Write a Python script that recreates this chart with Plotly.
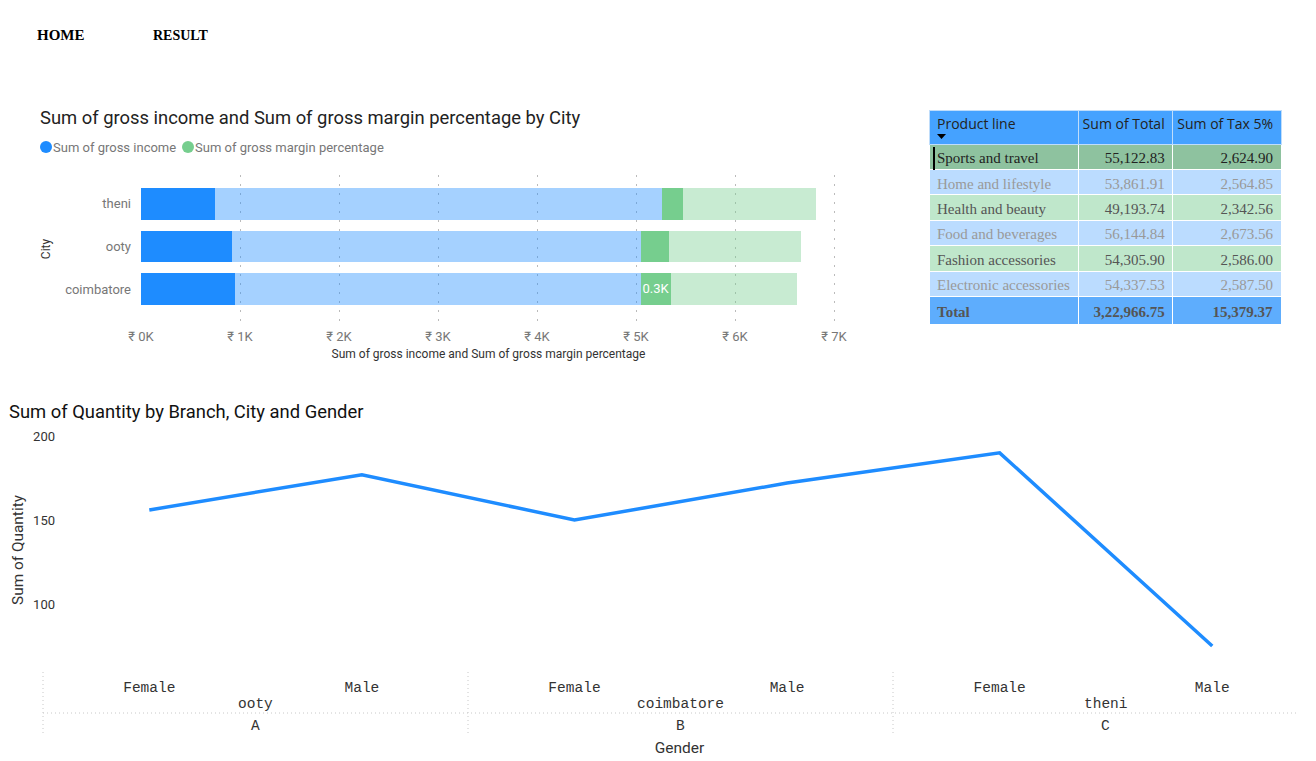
import plotly.graph_objects as go

W, H = 1316, 761

# ---------- bar chart data ----------
cities = ["coimbatore", "ooty", "theni"]
income_selected = [945, 920, 750]
income_rest = [4110, 4130, 4510]
margin_selected = [295, 280, 210]
margin_rest = [1280, 1340, 1350]
bar_labels = ["0.3K", "", ""]
bar_ticks = [0, 1000, 2000, 3000, 4000, 5000, 6000, 7000]
bar_ticktext = ["₹ 0K", "₹ 1K", "₹ 2K", "₹ 3K", "₹ 4K", "₹ 5K", "₹ 6K", "₹ 7K"]

# ---------- line chart data ----------
branches = ["A", "B", "C"]
branch_cities = ["ooty", "coimbatore", "theni"]
genders = ["Female", "Male", "Female", "Male", "Female", "Male"]
line_keys = ["A Female", "A Male", "B Female", "B Male", "C Female", "C Male"]
quantity = [156, 177, 150, 172, 190, 75]
line_ticks = [100, 150, 200]

# ---------- table data ----------
product_line = ["Sports and travel", "Home and lifestyle", "Health and beauty",
                "Food and beverages", "Fashion accessories", "Electronic accessories"]
sum_total = ["55,122.83", "53,861.91", "49,193.74", "56,144.84", "54,305.90", "54,337.53"]
sum_tax = ["2,624.90", "2,564.85", "2,342.56", "2,673.56", "2,586.00", "2,587.50"]
total_row = ["Total", "3,22,966.75", "15,379.37"]
table_header = ["Product\u00a0line", "Sum\u00a0of\u00a0Total", "Sum\u00a0of\u00a0Tax\u00a05%"]

BLUE = "#1E8CFF"
BLUE_L = "rgba(30,140,255,0.4)"
GREEN = "#76CE8E"
GREEN_L = "rgba(118,206,142,0.4)"
GREY = "#777777"
DIN = "Roboto"
MONO = "Liberation Mono"
SERIF = "Liberation Serif"


def px(x):
    return x / W


def py(y):
    return 1 - y / H


fig = go.Figure()

for vals, col, nm, txt in [
    (income_selected, BLUE, "Sum of gross income", None),
    (income_rest, BLUE_L, "Sum of gross income (other)", None),
    (margin_selected, GREEN, "Sum of gross margin percentage", bar_labels),
    (margin_rest, GREEN_L, "Sum of gross margin percentage (other)", None),
]:
    fig.add_trace(go.Bar(
        y=cities, x=vals, orientation="h", name=nm, marker=dict(color=col, line=dict(width=0)),
        text=txt, textposition="inside" if txt else None, insidetextanchor="middle",
        textangle=0, constraintext="none", textfont=dict(color="white", family=DIN, size=13),
        xaxis="x", yaxis="y", showlegend=False,
    ))

fig.add_trace(go.Scatter(
    x=line_keys, y=quantity, mode="lines", line=dict(color=BLUE, width=3.5),
    name="Sum of Quantity", xaxis="x2", yaxis="y2", showlegend=False,
))

row_fill = ["#8EC29F", "#BBDCFF", "#BFE7CB", "#BBDCFF", "#BFE7CB", "#BBDCFF", "#5EADFD"]
row_font = ["#222222", "#999999", "#555555", "#999999", "#555555", "#999999", "#555555"]
col_a = [name.replace(" ", "\u00a0") for name in product_line] + ["<b>" + total_row[0] + "</b>"]
col_b = sum_total + ["<b>" + total_row[1] + "</b>"]
col_c = sum_tax + ["<b>" + total_row[2] + "</b>"]
fig.add_trace(go.Table(
    domain=dict(x=[px(929), px(1281)], y=[py(325), py(110)]),
    columnwidth=[149, 94, 108],
    header=dict(values=table_header, height=34, fill_color="#45A2FF",
                line=dict(color="#BFDDFB", width=1),
                align=["left", "right", "right"],
                font=dict(family="Open Sans", size=14, color="#222222")),
    cells=dict(values=[col_a, col_b, col_c], height=25.4,
               fill_color=[row_fill] * 3,
               line=dict(color="white", width=1),
               align=["left", "right", "right"],
               font=dict(family=SERIF, size=15, color=[row_font] * 3)),
))

annotations = [
    dict(text="<b>HOME</b>", x=px(35), y=py(35), xanchor="left",
         font=dict(family=SERIF, size=15, color="black")),
    dict(text="<b>RESULT</b>", x=px(151), y=py(36), xanchor="left",
         font=dict(family=SERIF, size=14, color="black")),
    dict(text="Sum of gross income and Sum of gross margin percentage by City",
         x=px(38), y=py(117), xanchor="left", font=dict(family=DIN, size=18.4, color="#222222")),
    dict(text="Sum of Quantity by Branch, City and Gender",
         x=px(7), y=py(411), xanchor="left", font=dict(family=DIN, size=18.4, color="#111111")),
    dict(text="Sum of gross income", x=px(51), y=py(147), xanchor="left",
         font=dict(family=DIN, size=13, color=GREY)),
    dict(text="Sum of gross margin percentage", x=px(193), y=py(147), xanchor="left",
         font=dict(family=DIN, size=13, color=GREY)),
]
for i, (b, c) in enumerate(zip(branches, branch_cities)):
    mid = 2 * i + 0.5
    annotations.append(dict(text=c, x=mid, xref="x2", y=py(704), yref="paper",
                            font=dict(family=MONO, size=14.5, color="#333333")))
    annotations.append(dict(text=b, x=mid, xref="x2", y=py(726), yref="paper",
                            font=dict(family=MONO, size=14.5, color="#333333")))
for a in annotations:
    a.setdefault("xref", "paper")
    a.setdefault("yref", "paper")
    a["showarrow"] = False
    a["yanchor"] = "middle"

dot = dict(color="#C8C8C8", width=1, dash="1px,3px")
shapes = [
    dict(type="circle", xref="paper", yref="paper", x0=px(40), x1=px(52), y0=py(153), y1=py(141),
         fillcolor=BLUE, line=dict(width=0)),
    dict(type="circle", xref="paper", yref="paper", x0=px(182), x1=px(194), y0=py(153), y1=py(141),
         fillcolor=GREEN, line=dict(width=0)),
    dict(type="line", xref="paper", yref="paper", x0=px(43), x1=px(1296), y0=py(713), y1=py(713), line=dot),
    dict(type="rect", xref="paper", yref="paper", x0=px(933), x1=px(935), y0=py(170), y1=py(147),
         fillcolor="black", line=dict(width=0), layer="above"),
    dict(type="path", xref="paper", yref="paper", layer="above", fillcolor="black", line=dict(width=0),
         path=f"M {px(937)} {py(134)} L {px(946)} {py(134)} L {px(941.5)} {py(139)} Z"),
]
for sep in [43, 468, 893]:
    shapes.append(dict(type="line", xref="paper", yref="paper", x0=px(sep), x1=px(sep),
                       y0=py(672), y1=py(736), line=dot))

fig.update_layout(
    template="none",
    width=W, height=H, autosize=False, margin=dict(l=0, r=0, t=0, b=0, pad=0),
    paper_bgcolor="white", plot_bgcolor="white", barmode="stack", bargap=0.25,
    showlegend=False, annotations=annotations, shapes=shapes,
    font=dict(family=DIN),
    xaxis=dict(domain=[px(141), px(836)], range=[0, 7020], anchor="y", automargin=False,
               tickvals=bar_ticks, ticktext=bar_ticktext, showline=False, zeroline=False,
               ticks="", showgrid=True, gridcolor="#BBBBBB", griddash="2px,7px", gridwidth=1,
               ticklabelstandoff=4,
               tickfont=dict(family=DIN, size=13, color=GREY),
               title=dict(text="Sum of gross income and Sum of gross margin percentage",
                          font=dict(family=DIN, size=12, color="#333333"), standoff=6)),
    yaxis=dict(domain=[py(323), py(175)], range=[-0.8, 2.68], anchor="x", type="category", automargin=False,
               showgrid=False, zeroline=False, showline=False, ticks="", ticklabelstandoff=9,
               tickfont=dict(family=DIN, size=13, color=GREY),
               title=dict(text="City", font=dict(family=DIN, size=12, color="#333333"), standoff=11)),
    xaxis2=dict(domain=[px(43), 1], range=[-0.5, 5.488], anchor="y2", type="category", automargin=False,
                tickvals=line_keys, ticktext=genders, showgrid=False, zeroline=False, showline=False,
                ticks="", ticklabelstandoff=4, tickfont=dict(family=MONO, size=14.5, color="#333333"),
                title=dict(text="Gender", font=dict(family=DIN, size=15.5, color="#333333"), standoff=47)),
    yaxis2=dict(domain=[py(672), py(428)], range=[59.5, 204.8], anchor="free", position=px(55), automargin=False,
                tickvals=line_ticks, showgrid=False, zeroline=False, showline=False, ticks="",
                tickfont=dict(family=DIN, size=13, color="#333333"),
                title=dict(text="Sum of Quantity", font=dict(family=DIN, size=15.4, color="#333333"), standoff=4)),
)

fig.write_html("out.html", config=dict(displayModeBar=False), post_script="document.body.style.margin='0';")
